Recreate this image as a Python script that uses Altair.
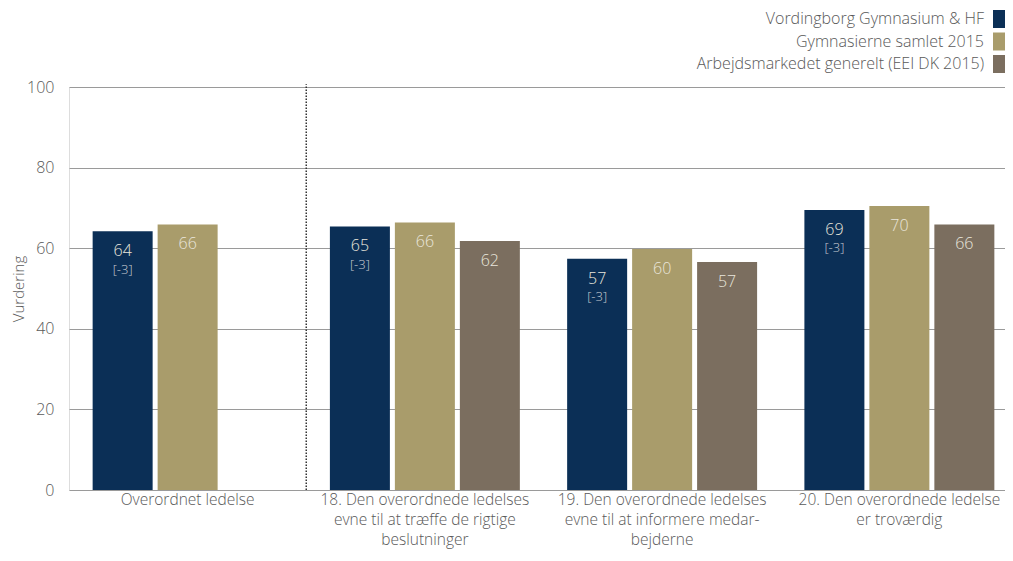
import altair as alt
import pandas as pd

categories = [
    "Overordnet ledelse",
    "18. Den overordnede ledelses|evne til at træffe de rigtige|beslutninger",
    "19. Den overordnede ledelses|evne til at informere medar-|bejderne",
    "20. Den overordnede ledelse|er troværdig",
]
series = [
    "Vordingborg Gymnasium & HF",
    "Gymnasierne samlet 2015",
    "Arbejdsmarkedet generelt (EEI DK 2015)",
]
colors = ["#0b2f56", "#a99c6b", "#7b6e5f"]

vordingborg = [64.2, 65.4, 57.4, 69.5]
vordingborg_labels = ["64", "65", "57", "69"]
vordingborg_diff = ["[-3]", "[-3]", "[-3]", "[-3]"]
gymnasierne = [65.9, 66.4, 59.8, 70.5]
gymnasierne_labels = ["66", "66", "60", "70"]
arbejdsmarked = [None, 61.8, 56.6, 65.9]
arbejdsmarked_labels = ["", "62", "57", "66"]

rows = []
for i, c in enumerate(categories):
    rows.append(dict(cat=c, series=series[0], value=vordingborg[i], label=vordingborg_labels[i], diff=vordingborg_diff[i]))
    rows.append(dict(cat=c, series=series[1], value=gymnasierne[i], label=gymnasierne_labels[i], diff=""))
    if arbejdsmarked[i] is not None:
        rows.append(dict(cat=c, series=series[2], value=arbejdsmarked[i], label=arbejdsmarked_labels[i], diff=""))
df = pd.DataFrame(rows)

FONT = "Open Sans"
TXT = "#595959"
FS = 16

W, H = 936, 403

xenc = alt.X("cat:N", sort=categories, title=None,
             scale=alt.Scale(paddingInner=0, paddingOuter=0, range=[0, 949]),
             axis=alt.Axis(labelAngle=0, labelExpr="split(datum.label, '|')",
                           labelFont=FONT, labelFontSize=15.5, labelColor=TXT, labelFontWeight=300,
                           labelLineHeight=20, labelPadding=2, domain=False, ticks=False,
                           labelBaseline="top", labelLimit=400))
xoff = alt.XOffset("series:N", sort=series,
                   scale=alt.Scale(paddingInner=0.077, paddingOuter=0.364))
yenc = alt.Y("value:Q", title="Vurdering",
             scale=alt.Scale(domain=[0, 100]),
             axis=alt.Axis(values=[0, 20, 40, 60, 80, 100], grid=True, gridColor="#9a9a9a",
                           gridWidth=1, domain=False, ticks=False, labelPadding=15,
                           labelFont=FONT, labelFontSize=FS, labelColor=TXT, labelFontWeight=300,
                           titleFont=FONT, titleFontSize=FS - 1, titleColor=TXT,
                           titleFontWeight=300, titlePadding=0))

bars = alt.Chart(df).mark_bar(size=60).encode(
    x=xenc, xOffset=xoff, y=yenc,
    color=alt.Color("series:N", sort=series,
                    scale=alt.Scale(domain=series, range=colors),
                    legend=alt.Legend(title=None, orient="none", legendX=924, legendY=-77,
                                      symbolType="square", symbolSize=324, symbolStrokeWidth=0,
                                      labelAlign="right", labelOffset={"expr": "-27"},
                                      labelFont=FONT, labelFontSize=FS, labelColor=TXT,
                                      labelFontWeight=300,
                                      rowPadding=4.5, labelLimit=400)),
)

vals = alt.Chart(df).mark_text(dy=20, font=FONT, fontSize=FS, fontWeight=300,
                               color="#e9e6dc", baseline="middle").encode(
    x=alt.X("cat:N", sort=categories), xOffset=alt.XOffset("series:N", sort=series),
    y="value:Q", text="label:N"
)
diffs = alt.Chart(df).mark_text(dy=38.5, font=FONT, fontSize=13, fontWeight=300,
                                color="#c9ccd2", baseline="middle").encode(
    x=alt.X("cat:N", sort=categories), xOffset=alt.XOffset("series:N", sort=series),
    y="value:Q", text="diff:N"
)

sep = pd.DataFrame({"cat": [categories[1]], "y0": [0], "y1": [100.7]})
rule = alt.Chart(sep).mark_rule(color="#333333", strokeDash=[1.5, 1.5], strokeWidth=1.5).encode(
    x=alt.X("cat:N", sort=categories, bandPosition=0), y="y0:Q", y2="y1:Q"
)

chart = alt.layer(bars, vals, diffs, rule).properties(
    width=W, height=H,
    autosize=alt.AutoSizeParams(type="none"),
    padding={"left": 61, "top": 79, "right": 0, "bottom": 545 - 79 - H},
).configure_view(stroke=None).configure(font=FONT)

chart.save("out.html", embed_options={"renderer": "svg", "actions": False})
